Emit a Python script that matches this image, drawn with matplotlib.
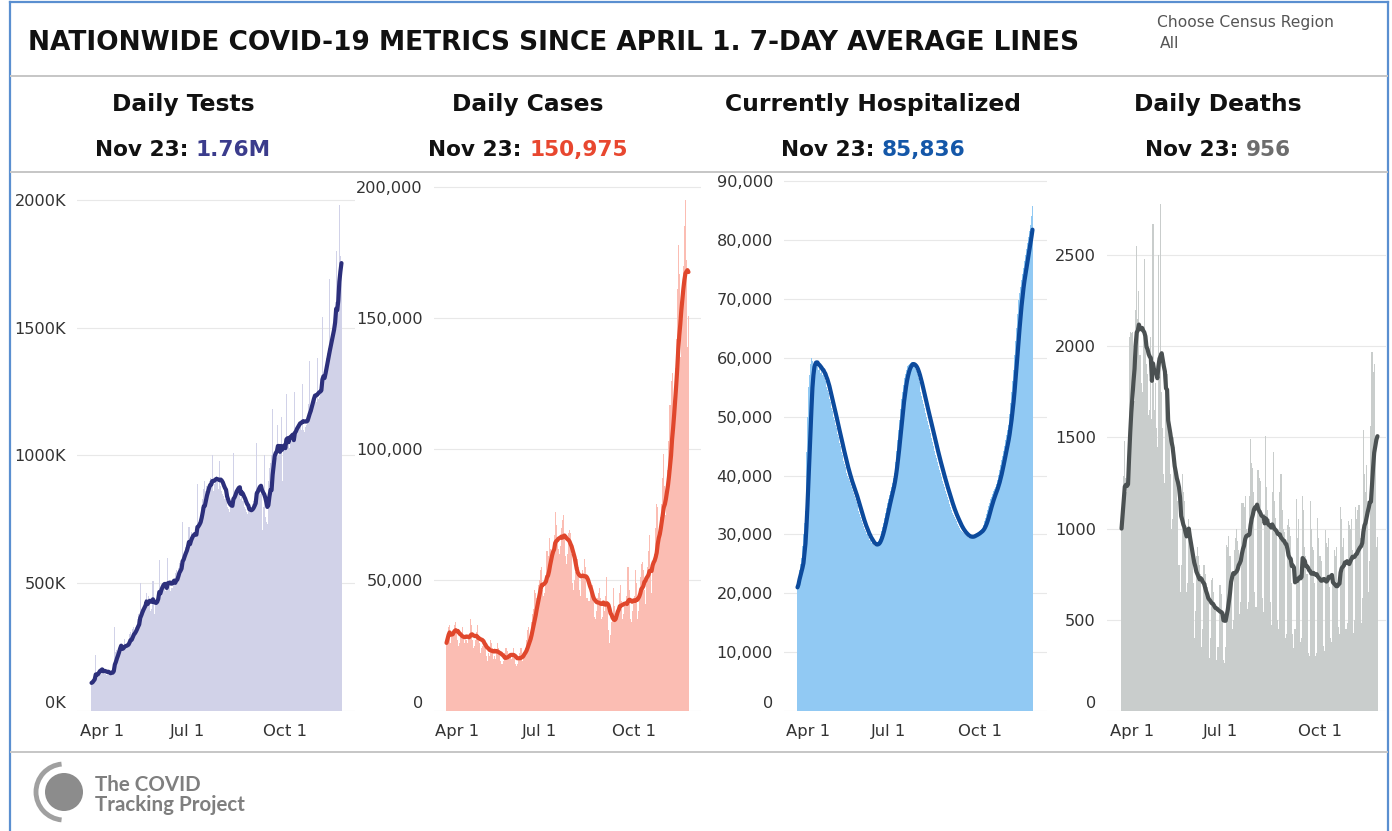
import matplotlib
matplotlib.use("Agg")
import matplotlib.pyplot as plt
import matplotlib.dates as mdates
import numpy as np
import pandas as pd
from matplotlib.lines import Line2D
from matplotlib.patches import Circle, Arc
from matplotlib.transforms import ScaledTranslation

# ---- data, Apr 1 .. Nov 23 2020, one value per day ----
start_date = "2020-04-01"

# daily tests, thousands
tests_k = [
    110, 115, 130, 140, 220, 140, 150,
    155, 160, 150, 165, 170, 150, 145,
    140, 150, 155, 145, 150, 160, 150,
    180, 330, 230, 240, 230, 250, 250,
    260, 240, 245, 280, 250, 260, 265,
    280, 300, 310, 290, 320, 330, 300,
    330, 360, 380, 350, 500, 400, 380,
    400, 420, 440, 460, 430, 450, 420,
    390, 400, 510, 380, 420, 440, 450,
    470, 590, 470, 480, 490, 500, 480,
    470, 480, 600, 490, 500, 470, 480,
    510, 520, 540, 550, 530, 560, 580,
    560, 580, 740, 600, 620, 640, 650,
    660, 720, 680, 700, 690, 700, 680,
    680, 700, 890, 720, 740, 760, 800,
    830, 870, 900, 860, 880, 870, 900,
    910, 880, 1000, 860, 890, 900, 920,
    900, 870, 980, 880, 860, 850, 840,
    830, 820, 800, 790, 780, 800, 810,
    820, 1010, 840, 860, 870, 850, 860,
    840, 830, 880, 820, 800, 790, 780,
    770, 790, 780, 800, 790, 810, 820,
    830, 860, 1050, 850, 860, 870, 850,
    710, 800, 1000, 760, 740, 730, 900,
    950, 970, 1000, 1180, 990, 1000, 980,
    990, 1120, 1000, 1020, 1150, 900, 1050,
    1030, 1050, 1240, 1050, 1040, 1030, 1060,
    1070, 1080, 1090, 1250, 1080, 1100, 1110,
    1120, 1130, 1100, 1280, 1100, 1090, 1110,
    1120, 1150, 1200, 1370, 1180, 1200, 1220,
    1230, 1240, 1210, 1380, 1220, 1230, 1240,
    1260, 1540, 1300, 1330, 1350, 1380, 1400,
    1420, 1690, 1440, 1460, 1500, 1530, 1600,
    1800, 1650, 1700, 1980, 1780, 1760,
]

# daily cases, thousands
cases_k = [
    # Apr
    26, 29, 32, 33, 26, 29, 30, 31, 33, 34, 30, 27, 25, 26, 29,
    30, 32, 29, 26, 27, 26, 28, 29, 35, 33, 27, 24, 25, 27, 30,
    # May
    33, 29, 26, 22, 24, 25, 28, 27, 25, 21, 19, 22, 21, 27, 26, 24,
    20, 21, 20, 22, 26, 24, 22, 19, 18, 18, 19, 22, 24, 23, 20,
    # Jun
    20, 21, 20, 22, 24, 22, 18, 17, 18, 20, 22, 24, 24, 19, 20,
    23, 24, 27, 31, 32, 27, 28, 34, 37, 39, 46, 45, 43, 42, 48,
    # Jul
    50, 54, 55, 46, 44, 45, 52, 61, 59, 66, 62, 58, 58, 62, 67, 76,
    71, 64, 62, 60, 63, 70, 73, 75, 66, 59, 56, 60, 68, 69, 68,
    # Aug
    60, 49, 46, 50, 53, 54, 58, 55, 46, 44, 51, 54, 52, 58, 55, 43,
    38, 42, 45, 45, 48, 45, 36, 35, 38, 43, 45, 47, 43, 35, 36,
    # Sep
    41, 38, 44, 51, 42, 31, 26, 29, 34, 36, 47, 40, 34, 35, 39,
    40, 45, 48, 42, 35, 37, 40, 40, 44, 55, 46, 35, 34, 38, 43,
    # Oct
    44, 54, 49, 35, 38, 43, 51, 56, 57, 54, 46, 41, 50, 55, 61, 67,
    55, 45, 56, 58, 60, 70, 79, 78, 61, 66, 74, 79, 89, 98, 86,
    # Nov
    75, 84, 92, 103, 117, 126, 129, 105, 119, 131, 142, 161,
    178, 167, 135, 156, 161, 170, 185, 195, 172, 139, 150.975,
]

# currently hospitalized, thousands
hosp_k = [
    21, 22, 24, 25, 26, 28, 30, 32, 34, 44,
    50, 55, 57, 59, 60, 59.5, 59, 59.5, 59, 58.5,
    59, 58, 58.5, 57.5, 58, 57, 57.5, 56.5, 56, 55,
    54.5, 54, 53, 52.5, 51.5, 51, 50, 49.5, 48.5, 48,
    47, 46.5, 45.5, 45, 44, 43.5, 42.5, 42, 41.5, 40.5,
    40, 39.5, 39, 38.5, 38, 37.5, 37, 36.5, 36, 35.5,
    35, 34, 33.5, 33, 32.5, 32, 31.5, 31, 30.5, 30,
    30, 29.5, 29, 29, 28.5, 28.5, 28.2, 28, 28, 28.2,
    28.5, 28.8, 29.2, 29.8, 30.5, 31.2, 32, 32.8, 33.6, 34.5,
    35.4, 36, 36.7, 37.3, 38, 38.8, 39.6, 40.4, 42.3, 44.2,
    46, 47.8, 49.5, 51.3, 53, 54.2, 55.3, 56.5, 57.2, 57.9,
    58.6, 58.7, 58.9, 59, 59.1, 59.2, 59, 58.6, 58.1, 57.7,
    57.3, 56.6, 55.9, 55.2, 54.2, 53.5, 52.8, 52.1, 51.4, 50.7,
    50, 49.3, 48.6, 47.9, 47.2, 46.4, 45.7, 45, 44.2, 43.5,
    42.9, 42.3, 41.6, 41, 40.4, 39.7, 39.1, 38.5, 38, 37.4,
    36.9, 36.3, 35.8, 35.2, 34.7, 34.1, 33.7, 33.3, 33, 32.6,
    32.2, 31.8, 31.5, 31.1, 30.7, 30.5, 30.4, 30.2, 30, 29.9,
    29.7, 29.5, 29.4, 29.5, 29.6, 29.7, 29.8, 29.8, 29.9, 30,
    30.1, 30.3, 30.4, 30.6, 30.7, 30.9, 31, 31.6, 32.2, 32.8,
    33.5, 34.1, 34.8, 35.4, 36, 36.4, 36.8, 37.3, 37.7, 38.1,
    38.5, 39.3, 40.1, 40.9, 41.8, 42.6, 43.4, 44.2, 45.1, 46,
    46.9, 47.7, 48.6, 50.5, 52.4, 54.2, 56.1, 58, 60.4, 62.8,
    65.1, 67.5, 69.9, 71, 72.1, 73.2, 74.2, 75.3, 76.4, 77.5,
    78.5, 79.5, 80.5, 81.5, 82.5, 84, 85.836,
]

# daily deaths
deaths = [
    1000, 1150, 1290, 1480, 1280, 1200, 1300,
    2050, 2080, 2070, 2080, 1850, 1700, 2200,
    2550, 2150, 2300, 1950, 1800, 1750, 2100,
    2480, 2000, 1900, 1850, 1620, 1650, 2050,
    1600, 2670, 1650, 1800, 1550, 1450, 2500,
    1900, 2780, 1750, 1550, 1300, 1250, 1850,
    1850, 1600, 1500, 1300, 1000, 1050, 1500,
    1450, 1380, 1250, 1150, 800, 650, 800,
    1300, 1200, 1150, 950, 650, 700, 1050,
    1000, 950, 900, 700, 400, 550, 850,
    900, 850, 800, 750, 350, 450, 800,
    750, 700, 680, 600, 290, 400, 720,
    730, 650, 600, 550, 280, 350, 690,
    690, 640, 550, 280, 263, 350, 910,
    900, 960, 850, 720, 450, 500, 880,
    950, 1000, 930, 880, 530, 600, 1140,
    1140, 1120, 1180, 1000, 560, 600, 1180,
    1490, 1360, 1330, 1200, 650, 570, 1320,
    1320, 1280, 1260, 1100, 620, 540, 1080,
    1510, 1230, 1100, 1050, 600, 470, 1200,
    1420, 1150, 1060, 1000, 500, 450, 1200,
    1300, 1100, 1000, 980, 400, 420, 1020,
    1050, 1010, 960, 700, 420, 348, 450,
    1160, 950, 1050, 750, 380, 400, 1180,
    1100, 900, 850, 750, 320, 300, 1150,
    1000, 900, 880, 700, 300, 320, 1060,
    950, 850, 820, 700, 357, 330, 990,
    920, 900, 950, 680, 400, 380, 700,
    880, 850, 900, 680, 460, 420, 1120,
    1050, 900, 950, 800, 450, 480, 1040,
    1020, 1000, 1050, 880, 430, 500, 1120,
    1050, 1100, 1130, 950, 480, 620, 1540,
    1300, 1200, 1350, 1150, 650, 820, 1560,
    1970, 1860, 1900, 1400, 900, 956,
]

titles = ["Daily Tests", "Daily Cases", "Currently Hospitalized", "Daily Deaths"]
tick_dates = ["2020-04-01", "2020-07-01", "2020-10-01"]
tick_labels = ["Apr 1", "Jul 1", "Oct 1"]

W, H = 1392, 831


def fx(px):
    return px / W


def fy(py):
    return 1 - py / H


dates = pd.date_range(start_date, periods=len(tests_k), freq="D")
xnum = mdates.date2num(dates)

series = [
    np.array(tests_k) * 1000,
    np.array(cases_k) * 1000,
    np.array(hosp_k) * 1000,
    np.array(deaths, dtype=float),
]

fmt_tick = [
    lambda v: f"{v / 1000:.0f}K",
    lambda v: f"{v:,.0f}",
    lambda v: f"{v:,.0f}",
    lambda v: f"{v:.0f}",
]
fmt_head = [
    lambda v: f"{v / 1e6:.2f}M",
    lambda v: f"{v:,.0f}",
    lambda v: f"{v:,.0f}",
    lambda v: f"{v:.0f}",
]
yticks = [
    np.arange(0, 2000001, 500000),
    np.arange(0, 200001, 50000),
    np.arange(0, 90001, 10000),
    np.arange(0, 2501, 500),
]
bar_colors = ["#d1d2e8", "#fbbdb3", "#91c9f3", "#c9cdcc"]
line_colors = ["#2c2f7b", "#e0472c", "#0c4a9c", "#4b5152"]
head_colors = ["#3b3c8c", "#e8472f", "#1457a8", "#6d6d6d"]

# pixel layout: axes box, bar span, y value at the top of the box
ax_x = [(77, 355), (434, 701), (784, 1047), (1107, 1386)]
bar_x = [(91, 342), (446, 689), (797, 1033), (1121, 1378)]
ytop = [2078000, 202700, 90200, 2911]
ax_top, ax_bot = 180, 711
col_cx = [183, 528, 873, 1218]

fig = plt.figure(figsize=(W / 100, H / 100), dpi=100)
fig.patch.set_facecolor("white")

# frame and separators
border = "#5a8fd0"
fig.add_artist(Line2D([fx(10), fx(10)], [fy(2), 0], color=border, lw=1.6))
fig.add_artist(Line2D([fx(1388), fx(1388)], [fy(2), 0], color=border, lw=1.6))
fig.add_artist(Line2D([fx(10), fx(1388)], [fy(2), fy(2)], color=border, lw=1.6))
for yy in (76, 172, 752):
    fig.add_artist(Line2D([fx(11), fx(1387)], [fy(yy), fy(yy)], color="#c6c6c6", lw=1.4))

fig.text(fx(28), fy(43), "NATIONWIDE COVID-19 METRICS SINCE APRIL 1. 7-DAY AVERAGE LINES",
         fontsize=19.0, fontweight="bold", color="#111111", ha="left", va="center")
fig.text(fx(1157), fy(22), "Choose Census Region", fontsize=11.2, color="#555555",
         ha="left", va="center")
fig.text(fx(1160), fy(44), "All", fontsize=11.2, color="#555555", ha="left", va="center")

renderer = fig.canvas.get_renderer()
date_label = f"{dates[-1].strftime('%b')} {dates[-1].day}: "

for i in range(4):
    vals = series[i]
    avg = pd.Series(vals).rolling(7, min_periods=1).mean().values

    x0, x1 = ax_x[i]
    b0, b1 = bar_x[i]
    ax = fig.add_axes([fx(x0), fy(ax_bot), (x1 - x0) / W, (ax_bot - ax_top) / H])
    per_day = (b1 - b0) / len(vals)
    left = xnum[0] - 0.5 - (b0 - x0) / per_day
    right = xnum[-1] + 0.5 + (x1 - b1) / per_day

    ax.bar(xnum, vals, width=1.04, color=bar_colors[i], linewidth=0, zorder=2)
    ax.plot(xnum, avg, color=line_colors[i], lw=3.0, solid_capstyle="round",
            solid_joinstyle="round", zorder=3)

    ax.set_xlim(left, right)
    ax.set_ylim(0, ytop[i])
    ax.set_axisbelow(True)
    for s in ax.spines.values():
        s.set_visible(False)
    ax.grid(axis="y", color="#e8e8e8", lw=0.8)
    ax.set_yticks(yticks[i])
    ax.set_yticklabels([fmt_tick[i](v) for v in yticks[i]])
    ax.set_xticks(mdates.date2num(pd.to_datetime(tick_dates)))
    ax.set_xticklabels(tick_labels)
    ax.tick_params(axis="y", length=0, pad=8, labelsize=11.6, labelcolor="#333333")
    ax.tick_params(axis="x", length=0, pad=9.5, labelsize=11.8, labelcolor="#333333")
    ax.get_yticklabels()[0].set_va("bottom")
    first = ax.get_xticklabels()[0]
    first.set_transform(first.get_transform() + ScaledTranslation(0.105, 0, fig.dpi_scale_trans))

    # headers
    fig.text(fx(col_cx[i]), fy(104), titles[i], fontsize=16.8, fontweight="bold",
             color="#111111", ha="center", va="center")
    t1 = fig.text(0, fy(150), date_label, fontsize=15.6, fontweight="bold",
                  color="#111111", ha="left", va="center")
    t2 = fig.text(0, fy(150), fmt_head[i](vals[-1]), fontsize=15.6, fontweight="bold",
                  color=head_colors[i], ha="left", va="center")
    w1 = t1.get_window_extent(renderer).width
    w2 = t2.get_window_extent(renderer).width
    xs = col_cx[i] - (w1 + w2) / 2
    t1.set_x(fx(xs))
    t2.set_x(fx(xs + w1))

# logo
logo_ax = fig.add_axes([0, 0, 1, 1], facecolor="none")
logo_ax.set_xlim(0, W)
logo_ax.set_ylim(H, 0)
logo_ax.axis("off")
logo_ax.add_patch(Circle((64, 792), 19, color="#8c8c8c", lw=0))
logo_ax.add_patch(Arc((64, 792), 56, 56, theta1=95, theta2=265, color="#a0a0a0", lw=3.5))
logo_ax.text(95, 785, "The COVID", fontsize=14.8, color="#7f7f7f", fontfamily="Lato",
             fontweight="bold", ha="left", va="center")
logo_ax.text(95, 805, "Tracking Project", fontsize=14.8, color="#7f7f7f", fontfamily="Lato",
             fontweight="bold", ha="left", va="center")

fig.savefig("out.png", dpi=100, facecolor="white")
